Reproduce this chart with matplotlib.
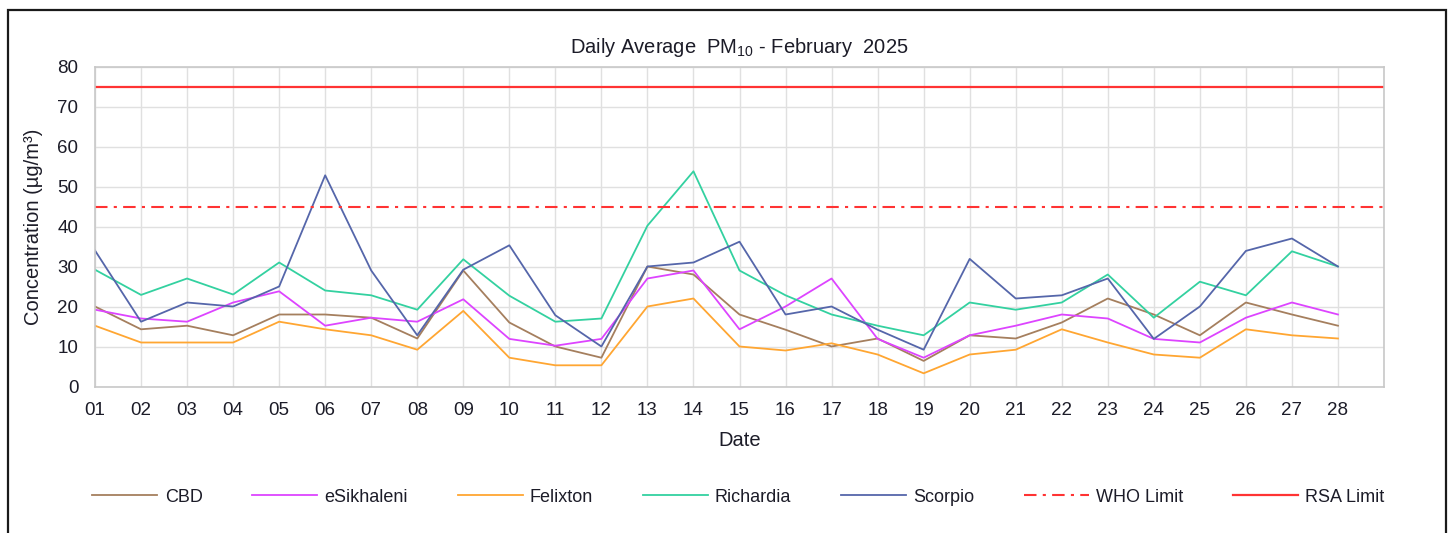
import matplotlib
matplotlib.use("Agg")
import matplotlib.pyplot as plt
from matplotlib.patches import Rectangle

plt.rcParams["font.family"] = ["Liberation Sans", "DejaVu Sans"]
plt.rcParams["mathtext.fontset"] = "custom"
plt.rcParams["mathtext.rm"] = "Liberation Sans"
plt.rcParams["mathtext.it"] = "Liberation Sans"

# ── data ─────────────────────────────────────────────────────────────────────
days = [f"{d:02d}" for d in range(1, 29)]

cbd = [20, 14.3, 15.2, 12.8, 18, 18, 17.2, 12, 29, 16, 10, 7.2, 30, 28,
       18, 14.2, 10, 12, 6.4, 12.8, 12, 16, 22, 18, 12.8, 21, 18, 15.2]
esikhaleni = [19.2, 17, 16.2, 21, 23.8, 15.2, 17.2, 16.2, 21.8, 11.9, 10.2, 11.9, 27, 29,
              14.3, 20, 27, 11.9, 7.2, 12.8, 15.2, 18, 17, 11.9, 11, 17.2, 21, 18]
felixton = [15.2, 11, 11, 11, 16.2, 14.3, 12.8, 9.2, 18.9, 7.2, 5.3, 5.3, 20, 22,
            10, 9, 10.8, 8, 3.3, 8, 9.2, 14.3, 11, 8, 7.2, 14.3, 12.8, 12]
richardia = [29.2, 22.9, 27, 23, 31, 24, 22.8, 19.2, 31.8, 22.7, 16.2, 17, 40.2, 53.8,
             29, 22.8, 18, 15.2, 12.8, 21, 19.2, 21, 28, 17.2, 26.2, 22.8, 33.8, 30]
scorpio = [34, 16.2, 21, 20, 25, 52.8, 29, 12.8, 29.2, 35.3, 17.8, 10, 30, 31,
           36.2, 18, 20, 14.2, 9.2, 31.9, 22, 22.8, 27, 11.9, 20, 33.9, 37, 30]

who_limit = 45
rsa_limit = 75

series = [
    ("CBD", cbd, "#A57F5E"),
    ("eSikhaleni", esikhaleni, "#DD44FF"),
    ("Felixton", felixton, "#FFA632"),
    ("Richardia", richardia, "#33D1A0"),
    ("Scorpio", scorpio, "#5566AA"),
]

TXT = "#1c1c28"

# ── figure ───────────────────────────────────────────────────────────────────
fig = plt.figure(figsize=(14.5, 5.33), dpi=100)
ax = fig.add_axes([95 / 1450, 1 - 386.5 / 533, 1289 / 1450, 320 / 533])

x = list(range(1, len(days) + 1))
for name, vals, col in series:
    ax.plot(x, vals, color=col, lw=1.3, label=name)

ax.axhline(who_limit, color="#FF3333", lw=1.5, dashes=(6, 3, 1.5, 3), label="WHO Limit")
ax.axhline(rsa_limit, color="#FF3333", lw=1.6, label="RSA Limit")

ax.set_xlim(1, len(days) + 1)
ax.set_ylim(0, 80)
ax.set_yticks(range(0, 81, 10))
ax.set_xticks(x)
ax.set_xticklabels(days)
ax.set_xticks([len(days) + 1], minor=True)
ax.tick_params(axis="both", which="both", length=0, labelsize=13.5, colors=TXT)
ax.tick_params(axis="y", pad=12)
ax.tick_params(axis="x", pad=11)
ax.grid(True, which="both", color="#E0E0E0", lw=1.0)
ax.set_axisbelow(True)
for sp in ax.spines.values():
    sp.set_color("#C8C8C8")
    sp.set_linewidth(1.2)

ax.set_title(r"Daily Average  PM$_{10}$ - February  2025", fontsize=14.5, pad=10,
             color=TXT)
ax.set_xlabel("Date", fontsize=14.5, labelpad=9, color=TXT)
ax.set_ylabel("Concentration (µg/m³)", fontsize=14.5, labelpad=10, color=TXT)

handles, labels = ax.get_legend_handles_labels()
leg = fig.legend(handles, labels, loc="center", bbox_to_anchor=(738.5 / 1450, 1 - 497 / 533),
                 ncol=7, frameon=False, fontsize=13, handlelength=3.6, handletextpad=0.4,
                 columnspacing=2.75)
for t in leg.get_texts():
    t.set_color(TXT)

# outer frame
fig.add_artist(Rectangle((8 / 1450, -0.1), (1446 - 8) / 1450, 1 - 10 / 533 + 0.1,
                         transform=fig.transFigure, fill=False, edgecolor="#1a1a1a",
                         lw=1.6, clip_on=False))

fig.savefig("out.png", dpi=100)
